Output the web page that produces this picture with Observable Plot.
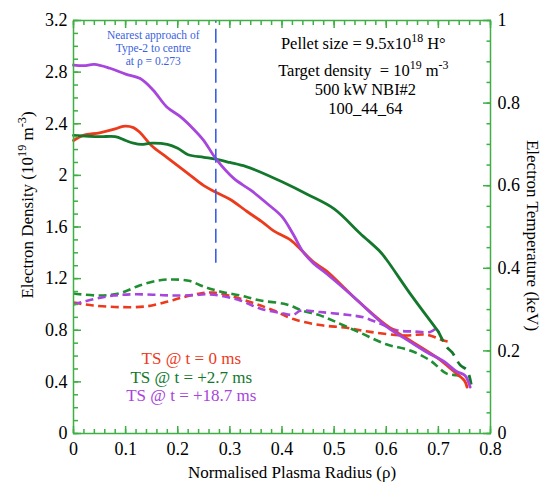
<!DOCTYPE html>
<html>
<head>
<meta charset="utf-8">
<script src="https://cdn.jsdelivr.net/npm/d3@7"></script>
<script src="https://cdn.jsdelivr.net/npm/@observablehq/plot@0.6"></script>
<style>
  html, body { margin: 0; padding: 0; background: white; }
  #chart { width: 549px; height: 486px; }
  #chart svg text, #chart svg tspan { white-space: pre; }
</style>
</head>
<body>
<div id="chart"></div>
<script>
// ---------------- DATA ----------------
// Electron density (10^19 m^-3), solid lines
const redDensRho   = [0, 0.019, 0.05, 0.08, 0.095, 0.115, 0.128, 0.15, 0.179, 0.218, 0.25, 0.273, 0.3, 0.333, 0.365, 0.384, 0.416, 0.435, 0.46, 0.485, 0.537, 0.6, 0.65, 0.7, 0.73, 0.75, 0.755];
const redDens      = [2.27, 2.31, 2.33, 2.36, 2.38, 2.37, 2.33, 2.23, 2.14, 2.02, 1.92, 1.87, 1.815, 1.72, 1.63, 1.57, 1.50, 1.43, 1.33, 1.26, 1.06, 0.84, 0.71, 0.58, 0.48, 0.41, 0.36];

const greenDensRho = [0, 0.05, 0.08, 0.1, 0.115, 0.13, 0.15, 0.18, 0.2, 0.22, 0.25, 0.273, 0.3, 0.33, 0.35, 0.4, 0.45, 0.5, 0.55, 0.588, 0.6, 0.65, 0.7];
const greenDens    = [2.31, 2.30, 2.30, 2.27, 2.25, 2.24, 2.25, 2.24, 2.21, 2.16, 2.14, 2.125, 2.10, 2.07, 2.04, 1.95, 1.85, 1.74, 1.55, 1.41, 1.35, 1.06, 0.79];
// long-dashed continuation of the green density profile at the edge
const greenEdgeRho = [0.7, 0.716, 0.726, 0.742, 0.755, 0.763];
const greenEdge    = [0.79, 0.67, 0.63, 0.53, 0.49, 0.38];

const purpleDensRho = [0, 0.02, 0.04, 0.07, 0.1, 0.128, 0.153, 0.179, 0.205, 0.23, 0.25, 0.273, 0.308, 0.34, 0.372, 0.4, 0.422, 0.44, 0.46, 0.485, 0.537, 0.6, 0.646, 0.678, 0.71, 0.735, 0.751, 0.761];
const purpleDens    = [2.855, 2.85, 2.86, 2.83, 2.785, 2.75, 2.66, 2.53, 2.455, 2.36, 2.27, 2.13, 1.975, 1.885, 1.78, 1.68, 1.54, 1.41, 1.32, 1.24, 1.06, 0.83, 0.71, 0.63, 0.56, 0.48, 0.45, 0.36];

// Electron temperature (keV), dashed lines
const redTempRho = [0, 0.038, 0.09, 0.141, 0.179, 0.205, 0.243, 0.269, 0.307, 0.345, 0.384, 0.422, 0.473, 0.524, 0.569, 0.633, 0.678, 0.71, 0.72];
const redTemp    = [0.317, 0.310, 0.306, 0.308, 0.319, 0.328, 0.339, 0.341, 0.331, 0.316, 0.298, 0.277, 0.2625, 0.256, 0.246, 0.2375, 0.239, 0.225, 0.222];

const greenTempRho = [0, 0.051, 0.09, 0.128, 0.166, 0.192, 0.224, 0.249, 0.281, 0.32, 0.359, 0.409, 0.44, 0.473, 0.5, 0.55, 0.6, 0.646, 0.684, 0.716, 0.735, 0.745];
const greenTemp    = [0.339, 0.334, 0.34, 0.359, 0.371, 0.373, 0.369, 0.356, 0.344, 0.334, 0.322, 0.3125, 0.297, 0.286, 0.272, 0.244, 0.216, 0.201, 0.177, 0.145, 0.141, 0.1375];

const purpleTempRho = [0, 0.038, 0.077, 0.115, 0.153, 0.192, 0.23, 0.256, 0.281, 0.32, 0.359, 0.397, 0.422, 0.435, 0.473, 0.524, 0.557, 0.588, 0.62, 0.653, 0.684, 0.694];
const purpleTemp    = [0.3125, 0.325, 0.334, 0.337, 0.336, 0.334, 0.335, 0.337, 0.334, 0.322, 0.302, 0.292, 0.2875, 0.297, 0.294, 0.2875, 0.281, 0.266, 0.25, 0.247, 0.246, 0.253];

// Axis ticks
const xTickLabels = [0, 0.1, 0.2, 0.3, 0.4, 0.5, 0.6, 0.7, 0.8];
const densTickLabels = [0, 0.4, 0.8, 1.2, 1.6, 2, 2.4, 2.8, 3.2];
const tempTickLabels = [0, 0.2, 0.4, 0.6, 0.8, 1];
const densMax = 3.2, tempMax = 1;   // the two y axes share the frame

// Annotations
const approachRho = 0.273, approachFrom = 1.32;
const approachText = ["Nearest approach of", "Type-2 to centre", "at ρ = 0.273"];
const infoText = ["Pellet size = 9.5x10^{18} H°", "Target density  = 10^{19} m^{-3}", "500 kW NBI#2", "100_44_64"];
const legendText = ["TS @ t = 0 ms", "TS @ t = +2.7 ms", "TS @ t = +18.7 ms"];

// ---------------- STYLE ----------------
const RED = "#ec3a1c", GREEN = "#13782c", GREEN_D = "#1f8f32", PURPLE = "#a745dc", BLUE = "#3a5fe0", FRAME = "#3fae45";
const legendColors = [RED, GREEN, PURPLE];
const k = densMax / tempMax;
const SERIF = "'Times New Roman', 'Liberation Serif', Tinos, Times, serif";

const toRows = (xs, ys) => xs.map((x, i) => ({x, y: ys[i]}));
const toRowsT = (xs, ys) => xs.map((x, i) => ({x, y: ys[i] * k}));

const minorX = d3.range(0, 0.8001, 0.02);
const minorY = d3.range(0, 3.2001, 0.1);
const minorT = d3.range(0, 1.0001, 0.05).map(t => t * k);
const majorT = tempTickLabels.map(t => t * k);

const lineStyle = {x: "x", y: "y", strokeWidth: 2.8, curve: "catmull-rom", strokeLinejoin: "round", strokeLinecap: "round"};
const dashStyle = {...lineStyle, strokeWidth: 2.6, strokeDasharray: "8,4.5", strokeLinecap: "butt"};

const plot = Plot.plot({
  width: 549, height: 486,
  marginLeft: 73, marginRight: 59, marginTop: 20, marginBottom: 53,
  x: {domain: [0, 0.8]},
  y: {domain: [0, densMax]},
  style: {fontSize: "17px", fontFamily: SERIF, background: "white", color: "black", overflow: "visible"},
  marks: [
    // dashed temperature profiles
    Plot.line(toRowsT(redTempRho, redTemp), {...dashStyle, stroke: RED}),
    Plot.line(toRowsT(greenTempRho, greenTemp), {...dashStyle, stroke: GREEN_D}),
    Plot.line(toRowsT(purpleTempRho, purpleTemp), {...dashStyle, stroke: PURPLE}),
    // solid density profiles
    Plot.line(toRows(redDensRho, redDens), {...lineStyle, stroke: RED}),
    Plot.line(toRows(greenDensRho, greenDens), {...lineStyle, stroke: GREEN}),
    Plot.line(toRows(greenEdgeRho, greenEdge), {...lineStyle, stroke: GREEN, strokeDasharray: "11,7", strokeLinecap: "butt"}),
    Plot.line(toRows(purpleDensRho, purpleDens), {...lineStyle, stroke: PURPLE}),
    // nearest approach marker
    Plot.ruleX([approachRho], {y1: approachFrom, y2: densMax, stroke: BLUE, strokeWidth: 1.6, strokeDasharray: "14,6"}),
    Plot.text(approachText, {x: 0.153, y: (d, i) => 3.085 - i * 0.1, text: d => d, fill: BLUE, fontSize: 11.5, fontFamily: SERIF}),
    // info block
    Plot.text(infoText, {x: (d, i) => i < 2 ? 0.556 : 0.56, y: (d, i) => [3.02, 2.81, 2.665, 2.515][i], text: d => d, fill: "black", fontSize: 16.5, fontFamily: SERIF}),
    // legend
    Plot.text(legendText, {x: 0.226, y: (d, i) => [0.58, 0.435, 0.295][i], text: d => d, fill: (d, i) => legendColors[i], fontSize: 17, fontFamily: SERIF}),
    // frame
    Plot.frame({stroke: FRAME, strokeWidth: 1.5}),
    // inward tick marks
    Plot.axisX({anchor: "bottom", ticks: minorX, tickSize: 4, dy: -4, stroke: FRAME, strokeWidth: 1.5, tickFormat: () => "", label: null}),
    Plot.axisX({anchor: "bottom", ticks: xTickLabels, tickSize: 7, dy: -7, stroke: FRAME, strokeWidth: 1.5, tickFormat: () => "", label: null}),
    Plot.axisX({anchor: "top", ticks: minorX, tickSize: 4, dy: 4, stroke: FRAME, strokeWidth: 1.5, tickFormat: () => "", label: null}),
    Plot.axisX({anchor: "top", ticks: xTickLabels, tickSize: 7, dy: 7, stroke: FRAME, strokeWidth: 1.5, tickFormat: () => "", label: null}),
    Plot.axisY({anchor: "left", ticks: minorY, tickSize: 5, dx: 5, stroke: FRAME, strokeWidth: 1.5, tickFormat: () => "", label: null}),
    Plot.axisY({anchor: "left", ticks: densTickLabels, tickSize: 8, dx: 8, stroke: FRAME, strokeWidth: 1.5, tickFormat: () => "", label: null}),
    Plot.axisY({anchor: "right", ticks: minorT, tickSize: 4.5, dx: -4.5, stroke: FRAME, strokeWidth: 1.5, tickFormat: () => "", label: null}),
    Plot.axisY({anchor: "right", ticks: majorT, tickSize: 8, dx: -8, stroke: FRAME, strokeWidth: 1.5, tickFormat: () => "", label: null}),
    // tick labels
    Plot.axisX({anchor: "bottom", ticks: xTickLabels, tickSize: 0, tickPadding: 9, tickFormat: d => String(d), fill: "black", label: null, fontSize: 18, fontFamily: SERIF}),
    Plot.axisY({anchor: "left", ticks: densTickLabels, tickSize: 0, tickPadding: 6, tickFormat: d => String(d), fill: "black", label: null, fontSize: 18, fontFamily: SERIF}),
    Plot.axisY({anchor: "right", ticks: majorT, tickSize: 0, tickPadding: 7, tickFormat: d => String(+(d / k).toFixed(2)), fill: "black", label: null, fontSize: 18, fontFamily: SERIF}),
    // axis titles
    Plot.text(["Normalised Plasma Radius (ρ)"], {frameAnchor: "bottom", dy: 44, dx: 10, text: d => d, fontSize: 17, fontFamily: SERIF}),
    Plot.text(["Electron Density (10^{19} m^{-3})"], {frameAnchor: "left", textAnchor: "middle", rotate: -90, dx: -46, dy: -22, text: d => d, fontSize: 17, fontFamily: SERIF}),
    Plot.text(["Electron Temperature (keV)"], {frameAnchor: "right", textAnchor: "middle", rotate: 90, dx: 42, dy: 8.5, text: d => d, fontSize: 17, fontFamily: SERIF})
  ]
});

// superscripts: convert "^{...}" into raised tspans
d3.select(plot).selectAll("text").each(function() {
  const t = this.textContent;
  if (!t.includes("^{")) return;
  const el = d3.select(this);
  this.textContent = "";
  for (const p of t.split(/(\^\{[^}]*\})/)) {
    if (!p) continue;
    const m = p.match(/^\^\{(.*)\}$/);
    const ts = el.append("tspan").text(m ? m[1] : p);
    if (m) ts.attr("baseline-shift", "super").attr("font-size", "72%");
  }
});

// serif font on the svg and on every text element
plot.setAttribute("font-family", SERIF);
d3.select(plot).selectAll("text").each(function() {
  const g = this.closest("g[font-size]");
  if (!this.hasAttribute("font-size") && g) this.setAttribute("font-size", g.getAttribute("font-size"));
  this.setAttribute("font-family", SERIF);
  this.style.setProperty("font-family", SERIF, "important");
});

document.getElementById("chart").appendChild(plot);
</script>
</body>
</html>
